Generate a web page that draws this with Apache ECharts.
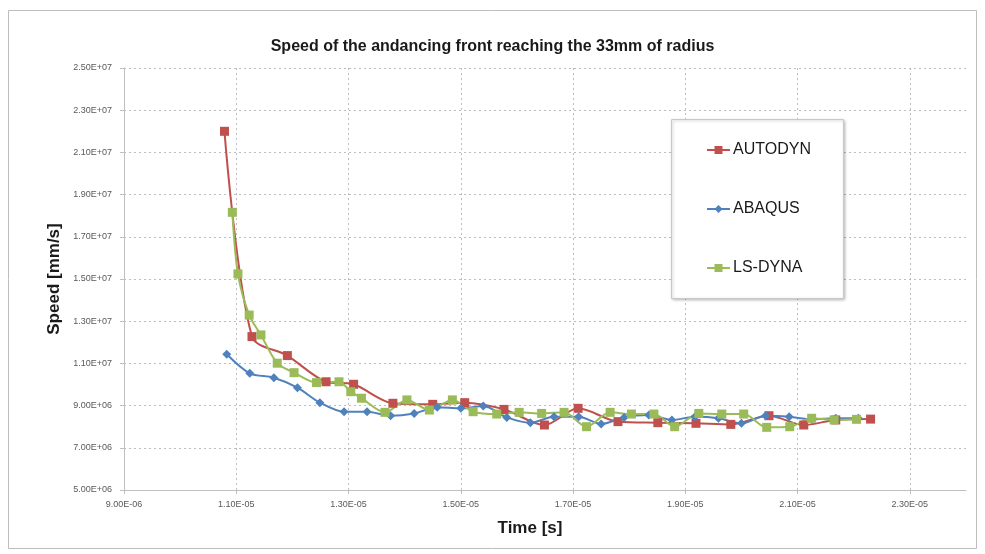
<!DOCTYPE html>
<html>
<head>
<meta charset="utf-8">
<script src="https://cdn.jsdelivr.net/npm/echarts@6/dist/echarts.min.js"></script>
<style>
  html, body { margin: 0; padding: 0; background: #fff; }
  #main { width: 985px; height: 554px; }
</style>
</head>
<body>
<div id="main"></div>
<script>
// DATA ------------------------------------------------------------------
var autodynT = [1.079e-5, 1.128e-5, 1.191e-5, 1.260e-5, 1.309e-5, 1.379e-5, 1.450e-5, 1.507e-5, 1.577e-5, 1.649e-5,
                1.709e-5, 1.780e-5, 1.851e-5, 1.919e-5, 1.981e-5, 2.049e-5, 2.111e-5, 2.168e-5, 2.230e-5];
var autodynV = [2.200e7, 1.227e7, 1.137e7, 1.013e7, 1.001e7, 9.11e6, 9.06e6, 9.14e6, 8.82e6, 8.08e6,
                8.87e6, 8.24e6, 8.19e6, 8.16e6, 8.11e6, 8.52e6, 8.08e6, 8.32e6, 8.36e6];

var abaqusT = [1.083e-5, 1.124e-5, 1.167e-5, 1.209e-5, 1.249e-5, 1.292e-5, 1.333e-5, 1.375e-5, 1.417e-5, 1.458e-5,
               1.500e-5, 1.540e-5, 1.582e-5, 1.624e-5, 1.666e-5, 1.710e-5, 1.750e-5, 1.791e-5, 1.835e-5, 1.876e-5,
               1.917e-5, 1.959e-5, 2.000e-5, 2.043e-5, 2.085e-5, 2.125e-5, 2.168e-5, 2.208e-5];
var abaqusV = [1.143e7, 1.053e7, 1.032e7, 9.85e6, 9.14e6, 8.71e6, 8.71e6, 8.52e6, 8.63e6, 8.92e6,
               8.87e6, 8.98e6, 8.44e6, 8.19e6, 8.47e6, 8.47e6, 8.13e6, 8.44e6, 8.55e6, 8.32e6,
               8.47e6, 8.40e6, 8.16e6, 8.52e6, 8.47e6, 8.35e6, 8.40e6, 8.40e6];

var lsdynaT = [1.093e-5, 1.103e-5, 1.123e-5, 1.144e-5, 1.173e-5, 1.203e-5, 1.243e-5, 1.283e-5, 1.304e-5, 1.323e-5,
               1.365e-5, 1.404e-5, 1.444e-5, 1.485e-5, 1.522e-5, 1.564e-5, 1.604e-5, 1.644e-5, 1.684e-5, 1.724e-5,
               1.766e-5, 1.804e-5, 1.844e-5, 1.881e-5, 1.924e-5, 1.965e-5, 2.004e-5, 2.045e-5, 2.086e-5, 2.125e-5,
               2.165e-5, 2.205e-5];
var lsdynaV = [1.816e7, 1.524e7, 1.329e7, 1.235e7, 1.101e7, 1.056e7, 1.009e7, 1.013e7, 9.66e6, 9.35e6,
               8.68e6, 9.27e6, 8.79e6, 9.27e6, 8.71e6, 8.60e6, 8.68e6, 8.63e6, 8.68e6, 8.00e6,
               8.68e6, 8.60e6, 8.60e6, 8.00e6, 8.63e6, 8.60e6, 8.60e6, 7.97e6, 8.00e6, 8.40e6,
               8.32e6, 8.35e6];

var xTicks = [9e-6, 1.1e-5, 1.3e-5, 1.5e-5, 1.7e-5, 1.9e-5, 2.1e-5, 2.3e-5];
var yTicks = [5e6, 7e6, 9e6, 1.1e7, 1.3e7, 1.5e7, 1.7e7, 1.9e7, 2.1e7, 2.3e7, 2.5e7];

// HELPERS ---------------------------------------------------------------
function sci(v) {
    var p = v.toExponential(2).split('e');
    var e = p[1];
    var sign = e.charAt(0) === '-' ? '-' : '+';
    var digits = e.replace(/[+-]/, '');
    if (digits.length < 2) digits = '0' + digits;
    return p[0] + 'E' + sign + digits;
}

function pairs(t, v) {
    return t.map(function (x, i) { return [x, v[i]]; });
}

var FONT = '"Liberation Sans", Arial, sans-serif';

function makeSeries(name, t, v, color, symbol, size) {
    return {
        name: name,
        type: 'line',
        smooth: 0.3,
        symbol: symbol,
        symbolSize: size,
        showAllSymbol: true,
        data: pairs(t, v),
        lineStyle: { color: color, width: 2 },
        itemStyle: { color: color, borderWidth: 0 },
        emphasis: { disabled: true },
        z: 3
    };
}

// CHART -----------------------------------------------------------------
var chart = echarts.init(document.getElementById('main'), null, { renderer: 'canvas' });

var gridLine = { show: true, lineStyle: { color: '#bebebe', type: [2, 3], width: 1 } };

var option = {
    animation: false,
    backgroundColor: '#ffffff',
    title: {
        text: 'Speed of the andancing front reaching the 33mm of radius',
        left: 'center',
        top: 34,
        textStyle: { fontFamily: FONT, fontSize: 16, fontWeight: 'bold', color: '#1a1a1a' }
    },
    graphic: [
        {
            type: 'rect',
            shape: { x: 8.5, y: 10.5, width: 968, height: 538 },
            style: { fill: 'none', stroke: '#bdbdbd', lineWidth: 1 },
            silent: true, z: -1
        },
        {
            type: 'rect',
            shape: { x: 671.5, y: 119.5, width: 172, height: 179 },
            style: {
                fill: '#ffffff', stroke: '#c8c8c8', lineWidth: 1,
                shadowBlur: 3, shadowColor: 'rgba(0,0,0,0.25)', shadowOffsetX: 1, shadowOffsetY: 1
            },
            silent: true, z: 10
        }
    ],
    legend: {
        orient: 'vertical',
        left: 706,
        top: 142,
        itemGap: 43,
        itemWidth: 23,
        itemHeight: 10,
        padding: 0,
        z: 20,
        textStyle: { fontFamily: FONT, fontSize: 16, color: '#1a1a1a', lineHeight: 16, padding: [0, 0, 0, -2] },
        data: ['AUTODYN', 'ABAQUS', 'LS-DYNA']
    },
    grid: { left: 124, right: 19, top: 68, bottom: 64 },
    xAxis: {
        type: 'value',
        min: 9e-6,
        max: 2.4e-5,
        name: 'Time [s]',
        nameLocation: 'middle',
        nameGap: 30,
        nameTextStyle: { fontFamily: FONT, fontSize: 17, fontWeight: 'bold', color: '#1a1a1a', padding: [0, 30, 0, 0] },
        axisLine: { show: true, lineStyle: { color: '#bfbfbf', width: 1 } },
        axisTick: { show: true, length: 4, customValues: xTicks, lineStyle: { color: '#bfbfbf' } },
        axisLabel: {
            customValues: xTicks,
            formatter: sci,
            margin: 10,
            fontFamily: FONT, fontSize: 9, color: '#595959'
        },
        splitLine: gridLine
    },
    yAxis: {
        type: 'value',
        min: 5e6,
        max: 2.5e7,
        name: 'Speed [mm/s]',
        nameLocation: 'middle',
        nameGap: 60,
        nameTextStyle: { fontFamily: FONT, fontSize: 17, fontWeight: 'bold', color: '#1a1a1a' },
        axisLine: { show: true, lineStyle: { color: '#bfbfbf', width: 1 } },
        axisTick: { show: true, length: 4, customValues: yTicks, lineStyle: { color: '#bfbfbf' } },
        axisLabel: {
            customValues: yTicks,
            formatter: sci,
            margin: 12,
            fontFamily: FONT, fontSize: 9, color: '#595959'
        },
        splitLine: gridLine
    },
    series: [
        makeSeries('AUTODYN', autodynT, autodynV, '#c0504d', 'rect', 9),
        makeSeries('ABAQUS', abaqusT, abaqusV, '#4f81bd', 'diamond', 9),
        makeSeries('LS-DYNA', lsdynaT, lsdynaV, '#9bbb59', 'rect', 9)
    ]
};

chart.setOption(option);
</script>
</body>
</html>
